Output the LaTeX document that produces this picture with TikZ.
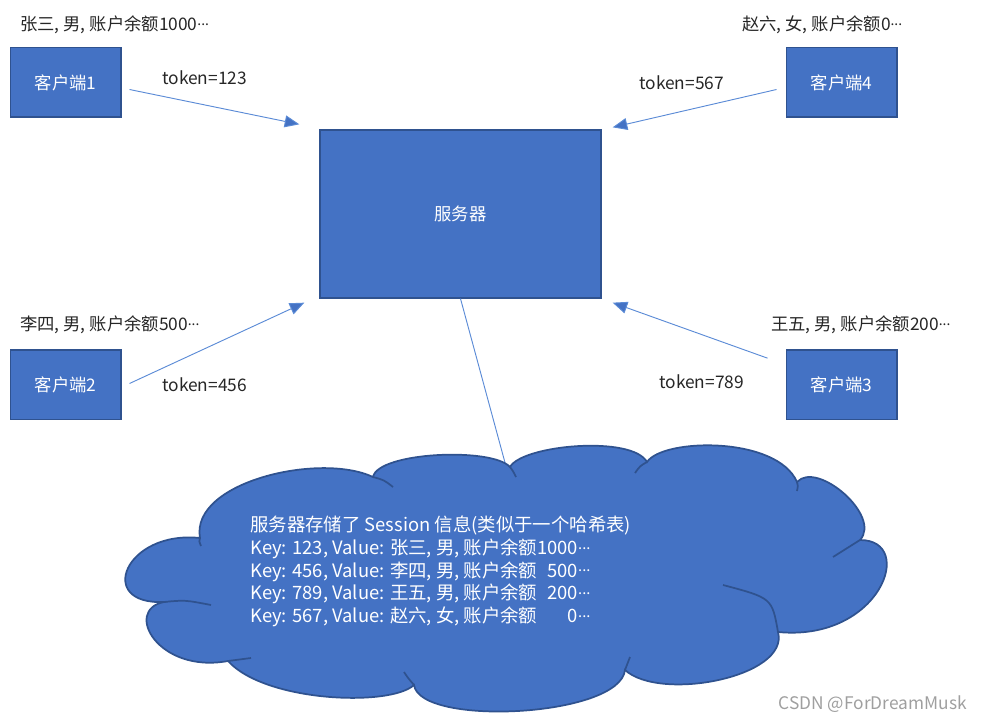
\documentclass[tikz,border=0pt]{standalone}
\usepackage{fontspec}
\setmainfont{Noto Sans CJK SC}
\usetikzlibrary{arrows.meta}
\definecolor{ofblue}{HTML}{4472C4}
\definecolor{ofdark}{HTML}{2F528F}
\definecolor{lnblue}{HTML}{5B8BD6}
\definecolor{txt}{HTML}{262626}
\newcommand{\mdots}{\raisebox{0.3em}{\scalebox{0.8}{...}}}
\newlength{\numw}
\begin{document}
\begin{tikzpicture}[x=0.75pt,y=-0.75pt,
  box/.style={draw=ofdark, line width=1pt, fill=ofblue, text=white, inner sep=0pt,
    minimum width=83pt, minimum height=52pt, font=\fontsize{13}{15}\selectfont},
  lbl/.style={anchor=west, inner sep=0pt, text=txt, font=\fontsize{13}{15}\selectfont},
  conn/.style={draw=lnblue, line width=0.7pt, -{Triangle[length=11pt,width=9pt,fill=ofblue]}},
  plainln/.style={draw=lnblue, line width=0.7pt},
  cloudfill/.style={draw=ofdark, fill=ofblue, line width=1.3pt, line join=miter},
  cloudstub/.style={draw=ofdark, line width=1.3pt}]
\useasboundingbox (0,0) rectangle (981,720);

% clients and server
\node[box] (c1) at (65.5,82.5) {客户端1};
\node[box] (c4) at (841.5,82.5) {客户端4};
\node[box] (c2) at (65.5,384.5) {客户端2};
\node[box] (c3) at (841.5,384.5) {客户端3};
\node[box, minimum width=210.75pt, minimum height=126pt] (srv) at (460.5,214) {服务器};

% user labels
\node[lbl] (u1) at (20,25) {张三, 男, 账户余额1000\mdots};
\node[lbl] (u4) at (742,25) {赵六, 女, 账户余额0\mdots};
\node[lbl] (u2) at (20,325) {李四, 男, 账户余额500\mdots};
\node[lbl] (u3) at (771,325) {王五, 男, 账户余额200\mdots};

% token labels
\node[lbl] (t1) at (162,78) {token=123};
\node[lbl] (t4) at (639,83) {token=567};
\node[lbl] (t2) at (162,385) {token=456};
\node[lbl] (t3) at (659,382) {token=789};

% connectors
\draw[conn] ([shift={(8,7)}]c1.east) -- ([shift={(-20,-5)}]srv.north west);
\draw[conn] ([shift={(-9,7)}]c4.west) -- ([shift={(11,-2)}]srv.north east);
\draw[conn] ([shift={(8,-1)}]c2.east) -- ([shift={(-15,4)}]srv.south west);
\draw[conn] ([shift={(-18,9)}]c3.north west) -- ([shift={(11,4)}]srv.south east);

% cloud junctions
\coordinate (j1) at (164,602);
\coordinate (j2) at (200,538);
\coordinate (j3) at (373,477);
\coordinate (j4) at (510,467);
\coordinate (j5) at (647,462);
\coordinate (j6) at (797,482);
\coordinate (j7) at (860,540);
\coordinate (j8) at (778,632);
\coordinate (j9) at (625,670);
\coordinate (j10) at (414,685);
\coordinate (j11) at (228,661);

% line to cloud
\coordinate (cltop) at (507,470);
\draw[plainln] (srv.south) -- (cltop);

% cloud
\path[cloudfill] (j1)
  .. controls (95,605) and (125,530) .. (j2)
  .. controls (190,482) and (320,452) .. (j3)
  .. controls (378,452) and (492,447) .. (j4)
  .. controls (522,445) and (632,435) .. (j5)
  .. controls (663,438) and (777,436) .. (j6)
  .. controls (817,460) and (882,516) .. (j7)
  .. controls (917,540) and (880,642) .. (j8)
  .. controls (790,677) and (660,702) .. (j9)
  .. controls (620,717) and (420,727) .. (j10)
  .. controls (390,707) and (265,702) .. (j11)
  .. controls (158,674) and (123,610) .. (j1) -- cycle;

% inner arcs of the cloud
\draw[cloudstub] (j1) .. controls (185,600) .. (211,605);
\draw[cloudstub] (j2) .. controls (199,541) .. (201,546);
\draw[cloudstub] (j3) .. controls (384,480) .. (393,487);
\draw[cloudstub] (j4) .. controls (513,471) .. (516,477);
\draw[cloudstub] (j5) .. controls (640,466) .. (635,473);
\draw[cloudstub] (j6) .. controls (798,486) .. (797,491);
\draw[cloudstub] (j7) .. controls (847,548) .. (833,557);
\draw[cloudstub] (j8) .. controls (772,598) .. (723,585);
\draw[cloudstub] (j9) .. controls (628,664) .. (630,657);
\draw[cloudstub] (j10) .. controls (408,678) .. (404,672);
\draw[cloudstub] (j11) .. controls (240,659) .. (251,658);

\node[anchor=north west, inner sep=0pt, text=white, align=left,
  font={\fontsize{13.8}{17}\selectfont\settowidth{\numw}{1000\mdots}}] (info) at (250,516)
  {服务器存储了 Session 信息(类似于一个哈希表)\\
   Key: 123, Value: 张三, 男, 账户余额\makebox[\numw][r]{1000\mdots}\\
   Key: 456, Value: 李四, 男, 账户余额\makebox[\numw][r]{500\mdots}\\
   Key: 789, Value: 王五, 男, 账户余额\makebox[\numw][r]{200\mdots}\\
   Key: 567, Value: 赵六, 女, 账户余额\makebox[\numw][r]{0\mdots}};

% watermark
\node[anchor=east, inner sep=0pt, text=gray!75, font=\fontsize{13}{15}\selectfont] (wm) at (967,704) {CSDN @ForDreamMusk};
\end{tikzpicture}
\end{document}
